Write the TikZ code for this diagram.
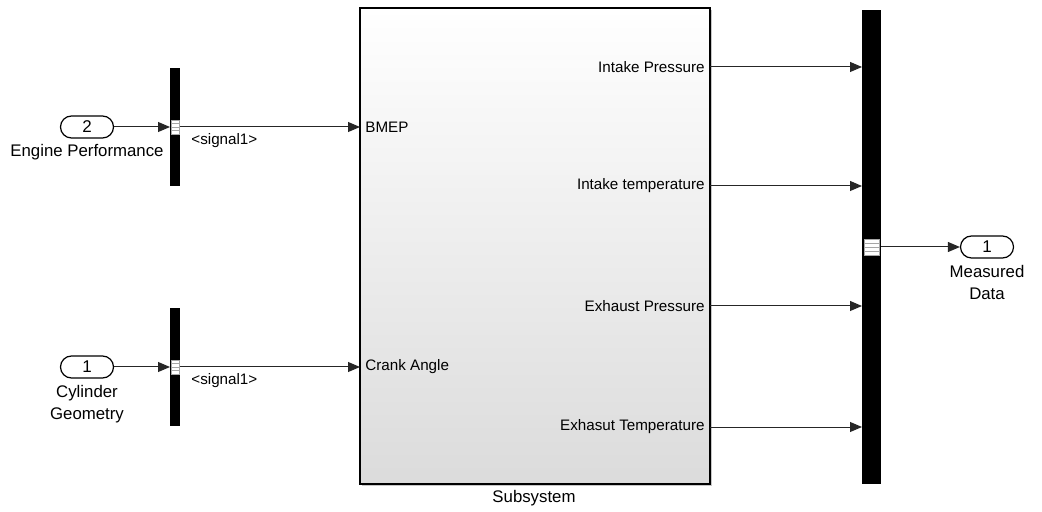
\documentclass[tikz,border=0pt]{standalone}
\usepackage{fontspec}
\setmainfont{Liberation Sans}
\usetikzlibrary{arrows.meta,shadows,positioning,calc}

\tikzset{
    sig/.style={-{Triangle[length=6pt,width=5pt]}, line width=0.5pt, draw=black!85},
    inport/.style={draw, line width=0.6pt, rounded corners=5.5pt, minimum width=26.5pt,
        minimum height=11pt, inner sep=0pt, font=\fontsize{8.5}{10}\selectfont},
    busbar/.style={fill=black, draw=none, inner sep=0pt, outer sep=0pt},
    portmark/.style={fill=white, draw=gray!70, line width=0.3pt, inner sep=0pt,
        path picture={
            \foreach \f in {0.25,0.5,0.75}
                \draw[gray!70, line width=0.3pt]
                    ($(path picture bounding box.south west)!\f!(path picture bounding box.north west)$)
                    -- ++(20pt,0);
        }},
    blockname/.style={font=\fontsize{8.4}{11}\selectfont, inner sep=0pt, align=center},
    portname/.style={font=\fontsize{7.6}{9}\selectfont, inner sep=0pt}
}

\begin{document}
\begin{tikzpicture}[x=0.5pt,y=-0.5pt]
    \useasboundingbox (0,0) rectangle (1042,512);

    % subsystem block
    \node[draw, line width=0.7pt, top color=white, bottom color=black!14, outer sep=0pt,
        drop shadow={shadow xshift=1pt, shadow yshift=-1pt, opacity=0.45},
        minimum width=175pt, minimum height=238pt, anchor=north west] (sub) at (360,8) {};
    \node[blockname] (subname) at (534,498) {Subsystem};

    % inputs on the left
    \node[inport] (in2) at (87,127) {2};
    \node[blockname, below=2.5pt of in2] (in2name) {Engine Performance};
    \node[inport] (in1) at (87,367) {1};
    \node[blockname, below=3pt of in1] (in1name) {Cylinder\\Geometry};

    % bus selectors
    \node[busbar, minimum width=5pt, minimum height=59pt] (sel1) at (175,127) {};
    \node[busbar, minimum width=5pt, minimum height=59pt] (sel2) at (175,367) {};
    \node[portmark, minimum width=4pt, minimum height=7pt] at (sel1) {};
    \node[portmark, minimum width=4pt, minimum height=7pt] at (sel2) {};

    \draw[sig] (in2) -- (sel1);
    \draw[sig] (in1) -- (sel2);

    \node[portname, anchor=west] (bmep) at (365,127) {BMEP};
    \node[portname, anchor=west] (crank) at (365,367) {Crank Angle};
    \draw[sig] (sel1.east) -- (sel1.east -| sub.west);
    \draw[sig] (sel2.east) -- (sel2.east -| sub.west);
    \node[portname, anchor=west] (sig1) at (191,141) {<signal1>};
    \node[portname, anchor=west] (sig2) at (191,381) {<signal1>};

    % bus creator on the right
    \node[busbar, minimum width=9.5pt, minimum height=237pt] (bus) at (871.5,247) {};
    \node[portmark, minimum width=7.5pt, minimum height=8pt] at (bus) {};

    \node[portname, anchor=east] (ipress) at (705,67) {Intake Pressure};
    \node[portname, anchor=east] (itemp) at (705,186) {Intake temperature};
    \node[portname, anchor=east] (epress) at (705,306) {Exhaust Pressure};
    \node[portname, anchor=east] (etemp) at (705,427) {Exhasut Temperature};
    \foreach \p in {ipress,itemp,epress,etemp}
        \draw[sig] (\p.east -| sub.east) -- (\p.east -| bus.west);

    % output
    \node[inport] (out1) at (987,247) {1};
    \node[blockname, below=3pt of out1] (out1name) {Measured\\Data};
    \draw[sig] (bus.east |- out1) -- (out1);
\end{tikzpicture}
\end{document}
